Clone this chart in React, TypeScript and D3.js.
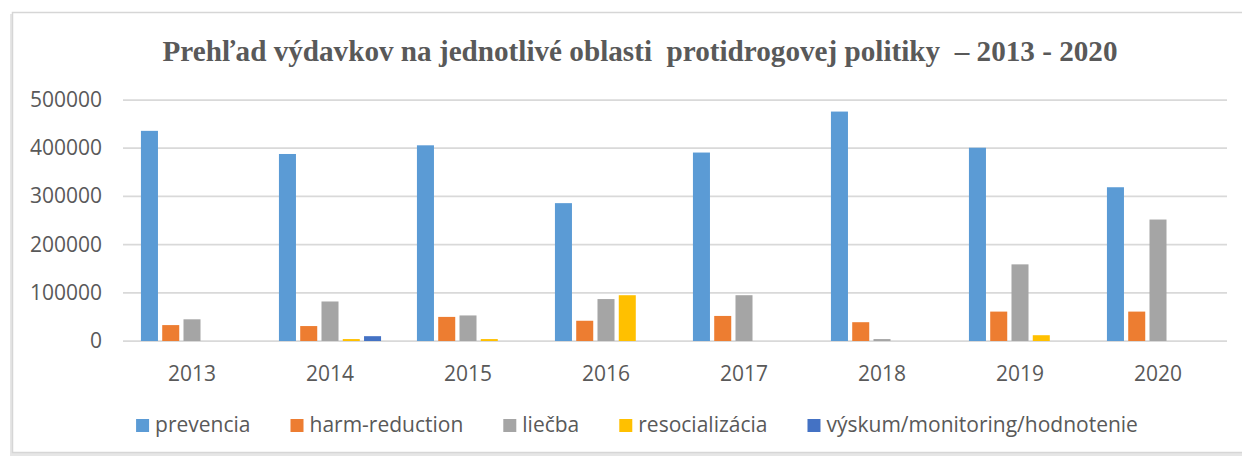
import React, { useEffect, useRef } from 'react';
import * as d3 from 'd3';

// years on the x axis
const years = ['2013', '2014', '2015', '2016', '2017', '2018', '2019', '2020'];

// series names and values (in EUR)
const seriesNames = ['prevencia', 'harm-reduction', 'liečba', 'resocializácia', 'výskum/monitoring/hodnotenie'];
const prevencia = [436000, 388000, 406000, 286000, 391000, 476000, 401000, 319000];
const harmReduction = [33000, 31000, 50000, 42000, 52000, 39000, 61000, 61000];
const liecba = [45000, 82000, 53000, 87000, 95000, 4000, 159000, 252000];
const resocializacia = [0, 4000, 4000, 95000, 0, 0, 12000, 0];
const vyskum = [0, 10000, 0, 0, 0, 0, 0, 0];
const seriesValues = [prevencia, harmReduction, liecba, resocializacia, vyskum];
const seriesColors = ['#5B9BD5', '#ED7D31', '#A5A5A5', '#FFC000', '#4472C4'];
const yTicks = [0, 100000, 200000, 300000, 400000, 500000];

const title = 'Prehľad výdavkov na jednotlivé oblasti  protidrogovej politiky  – 2013 - 2020';

const W = 1242;
const H = 457;
const textColor = '#595959';

export default function App() {
  const ref = useRef<SVGSVGElement>(null);

  useEffect(() => {
    const svg = d3.select(ref.current);
    svg.selectAll('*').remove();

    // chart frame with a soft left/bottom shadow
    svg.append('rect').attr('x', 10).attr('y', 14).attr('width', 1240).attr('height', 442).attr('fill', '#e6e6e6');
    svg.append('rect')
      .attr('x', 12.5).attr('y', 12.5).attr('width', 1240).attr('height', 440)
      .attr('fill', '#fff').attr('stroke', '#d6d6d6').attr('stroke-width', 1.5);

    // title
    svg.append('text')
      .attr('x', 640).attr('y', 61)
      .attr('text-anchor', 'middle')
      .attr('font-family', '"Liberation Serif", "Times New Roman", serif')
      .attr('font-weight', 'bold')
      .attr('font-size', 30)
      .attr('fill', textColor)
      .attr('textLength', 955)
      .attr('lengthAdjust', 'spacingAndGlyphs')
      .style('white-space', 'pre')
      .text(title);

    const x0 = d3.scaleBand<string>().domain(years).range([123, 1227]).paddingInner(0.26).paddingOuter(0.13);
    const x1 = d3.scaleBand<string>().domain(seriesNames).range([0, x0.bandwidth()]).paddingInner(0.2).paddingOuter(0);
    const y = d3.scaleLinear().domain([0, 500000]).range([341, 100]);

    // gridlines
    svg.append('g').selectAll('line').data(yTicks).join('line')
      .attr('x1', 123).attr('x2', 1227)
      .attr('y1', (d) => y(d)).attr('y2', (d) => y(d))
      .attr('stroke', '#d9d9d9').attr('stroke-width', 1.75);

    // y labels
    svg.append('g').selectAll('text').data(yTicks).join('text')
      .attr('x', 102).attr('y', (d) => y(d) + 7)
      .attr('text-anchor', 'end')
      .attr('font-family', '"Open Sans", sans-serif')
      .attr('font-size', 21)
      .attr('fill', textColor)
      .text((d) => String(d));

    // x labels
    svg.append('g').selectAll('text').data(years).join('text')
      .attr('x', (d) => (x0(d) as number) + x0.bandwidth() / 2).attr('y', 381)
      .attr('text-anchor', 'middle')
      .attr('font-family', '"Open Sans", sans-serif')
      .attr('font-size', 21)
      .attr('fill', textColor)
      .text((d) => d);

    // bars
    seriesNames.forEach((name, si) => {
      svg.append('g').selectAll('rect').data(seriesValues[si]).join('rect')
        .attr('x', (_d, i) => (x0(years[i]) as number) + (x1(name) as number))
        .attr('y', (d) => y(d))
        .attr('width', x1.bandwidth())
        .attr('height', (d) => y(0) - y(d))
        .attr('fill', seriesColors[si]);
    });

    // legend, laid out from measured text widths and centred
    const legend = svg.append('g');
    const items = seriesNames.map((name, i) => {
      const g = legend.append('g');
      g.append('rect').attr('x', 0).attr('y', 419).attr('width', 13).attr('height', 13).attr('fill', seriesColors[i]);
      const t = g.append('text')
        .attr('x', 19).attr('y', 432)
        .attr('font-family', '"Open Sans", sans-serif')
        .attr('font-size', 21)
        .attr('fill', textColor)
        .text(name);
      const w = 19 + (t.node() as SVGTextElement).getComputedTextLength();
      return { g, w };
    });
    const gap = 40;
    const total = d3.sum(items, (d) => d.w) + gap * (items.length - 1);
    let cx = 637 - total / 2;
    items.forEach(({ g, w }) => {
      g.attr('transform', `translate(${cx},0)`);
      cx += w + gap;
    });
  }, []);

  return (
    <svg ref={ref} width={W} height={H} style={{ position: 'absolute', left: 0, top: 0, background: '#fff' }} />
  );
}
